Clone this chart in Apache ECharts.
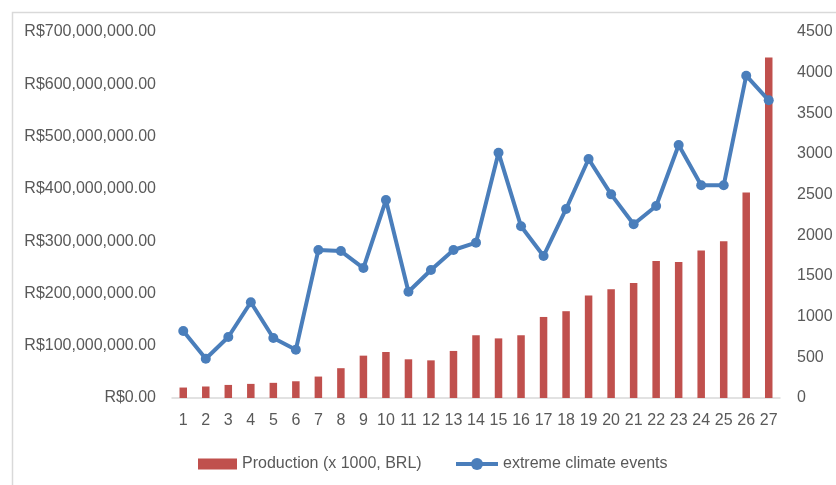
<!DOCTYPE html>
<html>
<head>
<meta charset="utf-8">
<script src="https://cdn.jsdelivr.net/npm/echarts@6/dist/echarts.min.js"></script>
<style>
  html, body { margin: 0; padding: 0; background: #fff; }
  #chart { width: 836px; height: 485px; }
</style>
</head>
<body>
<div id="chart"></div>
<script>
// Years numbered 1..27
const categories = ['1','2','3','4','5','6','7','8','9','10','11','12','13','14','15','16','17','18','19','20','21','22','23','24','25','26','27'];

// Production value (x 1000, BRL), left axis
const production = [
  20e6, 22e6, 25e6, 27e6, 29e6, 32e6, 41e6, 57e6, 81e6, 88e6,
  74e6, 72e6, 90e6, 120e6, 114e6, 120e6, 155e6, 166e6, 196e6, 208e6,
  220e6, 262e6, 260e6, 282e6, 300e6, 393e6, 651e6
];

// Number of extreme climate events, right axis
const climateEvents = [
  824, 483, 750, 1177, 738, 594, 1820, 1807, 1598, 2434,
  1307, 1574, 1820, 1910, 3016, 2111, 1746, 2324, 2939, 2504,
  2136, 2361, 3111, 2615, 2615, 3963, 3660
];

const leftTicks = { min: 0, max: 700e6, interval: 100e6 };
const rightTicks = { min: 0, max: 4500, interval: 500 };

const FONT = 'Liberation Sans';
const TEXT = '#595959';
const RED = '#C0504D';
const BLUE = '#4A7EBB';

function brl(v) {
  return 'R$' + Math.round(v).toString().replace(/\B(?=(\d{3})+(?!\d))/g, ',') + '.00';
}

const chart = echarts.init(document.getElementById('chart'), null, { renderer: 'canvas' });
chart.setOption({
  animation: false,
  backgroundColor: '#fff',
  textStyle: { fontFamily: FONT, color: TEXT },
  graphic: [{
    type: 'rect',
    left: 10, top: 10,
    shape: { width: 900, height: 600 },
    style: { fill: 'none', stroke: '#D9D9D9', lineWidth: 1.5 },
    silent: true
  }],
  grid: { left: 172, right: 56, top: 32, bottom: 87, containLabel: false },
  legend: [
    {
      data: [{ name: 'Production (x 1000, BRL)', icon: 'rect' }],
      left: 193, top: 451,
      itemWidth: 39, itemHeight: 11, itemGap: 3,
      textStyle: { fontFamily: FONT, fontSize: 16, color: TEXT }
    },
    {
      data: ['extreme climate events'],
      left: 449, top: 451,
      itemWidth: 42, itemHeight: 15, itemGap: 3,
      lineStyle: { width: 4, color: BLUE },
      textStyle: { fontFamily: FONT, fontSize: 16, color: TEXT }
    }
  ],
  xAxis: {
    type: 'category',
    data: categories,
    axisLine: { lineStyle: { color: '#D9D9D9', width: 1.5 } },
    axisTick: { show: false },
    axisLabel: { fontFamily: FONT, fontSize: 16, color: TEXT, margin: 15, interval: 0 }
  },
  yAxis: [
    {
      type: 'value',
      min: leftTicks.min, max: leftTicks.max, interval: leftTicks.interval,
      splitLine: { show: false },
      axisLine: { show: false },
      axisTick: { show: false },
      axisLabel: { fontFamily: FONT, fontSize: 16, color: TEXT, margin: 16, formatter: brl }
    },
    {
      type: 'value',
      min: rightTicks.min, max: rightTicks.max, interval: rightTicks.interval,
      splitLine: { show: false },
      axisLine: { show: false },
      axisTick: { show: false },
      axisLabel: { fontFamily: FONT, fontSize: 16, color: TEXT, margin: 17, formatter: v => String(v) }
    }
  ],
  series: [
    {
      name: 'Production (x 1000, BRL)',
      type: 'bar',
      yAxisIndex: 0,
      data: production,
      barWidth: 7.5,
      itemStyle: { color: RED },
      z: 2
    },
    {
      name: 'extreme climate events',
      type: 'line',
      yAxisIndex: 1,
      data: climateEvents,
      symbol: 'circle',
      symbolSize: 10,
      lineStyle: { color: BLUE, width: 4 },
      itemStyle: { color: BLUE },
      z: 3
    }
  ]
});
</script>
</body>
</html>
